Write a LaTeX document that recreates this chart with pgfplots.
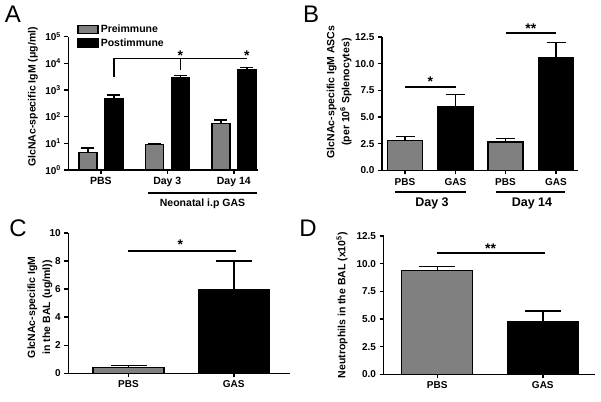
\documentclass[border=0pt]{standalone}
\usepackage{fontspec}
\setmainfont{Liberation Sans}
\usepackage{pgfplots}
\pgfplotsset{compat=1.18}
\definecolor{bargray}{RGB}{128,128,128}
\newcommand{\tf}{\fontsize{10}{12}\selectfont\bfseries}
\newcommand{\lf}{\fontsize{10.5}{15}\selectfont\bfseries}
\newcommand{\starf}{\fontsize{14}{14}\selectfont\bfseries}
\pgfplotsset{
  prism/.style={
    scale only axis, axis lines*=left, clip=false,
    axis line style={line width=1.6pt, black},
    every tick/.style={black, line width=1.4pt},
    major tick length=4pt, tick align=outside,
    ticklabel style={font=\tf},
    label style={font=\lf, align=center},
    /pgf/number format/assume math mode=true,
    ybar,
    error bars/y dir=plus, error bars/y explicit,
    error bars/error bar style={line width=1.4pt, black},
  },
  gbar/.style={fill=bargray, draw=black, line width=1.4pt, bar shift=0pt},
  kbar/.style={fill=black, draw=black, line width=1.4pt, bar shift=0pt},
}
\begin{document}
\begin{tikzpicture}
\path[use as bounding box] (0pt,0pt) rectangle (601pt,401pt);
% panel letters
\node[font=\fontsize{24}{24}\selectfont] at (13pt,386.5pt) {A};
\node[font=\fontsize{24}{24}\selectfont] at (311pt,387pt) {B};
\node[font=\fontsize{24}{24}\selectfont] at (18pt,173pt) {C};
\node[font=\fontsize{24}{24}\selectfont] at (308pt,173pt) {D};

% ---------------- Panel A ----------------
\begin{axis}[prism, at={(68.3pt,231pt)}, anchor=south west,
  width=189.7pt, height=133.3pt,
  xmin=0, xmax=189.7, ymode=log, ymin=1, ymax=1e5, log origin=0,
  yminorticks=false,
  ytick={1,10,100,1000,10000,100000},
  yticklabels={10\textsuperscript{0},10\textsuperscript{1},10\textsuperscript{2},10\textsuperscript{3},10\textsuperscript{4},10\textsuperscript{5}},
  xtick={32.5,99,165.5}, xticklabels={PBS,Day 3,Day 14},
  xticklabel style={font=\fontsize{10.5}{12}\selectfont\bfseries},
  bar width=18,
  error bars/error mark options={black, line width=1.4pt, rotate=90, mark size=6.5pt},
  ylabel={GlcNAc-specific IgM (μg/ml)},
  ylabel style={at={(axis description cs:-0.186,0.548)}, anchor=center},
  legend style={at={(axis description cs:0.047,1.105)}, anchor=north west,
    draw=none, fill=none, font=\lf, inner sep=0pt, row sep=0.5pt},
  legend cell align=left,
]
\addlegendimage{legend image code/.code={\draw[fill=bargray,draw=black,line width=1.4pt] (0pt,-4pt) rectangle (20pt,4pt);}}
\addlegendentry{Preimmune}
\addlegendimage{legend image code/.code={\draw[fill=black,draw=black,line width=1.4pt] (0pt,-4pt) rectangle (20pt,4pt);}}
\addlegendentry{Postimmune}
\addplot[gbar] table[x=x, y=y, y error=e] {
x y e
19.5 4.6 2.1
86 8.9 1.1
152.5 54.6 20
};
\addplot[kbar] table[x=x, y=y, y error=e] {
x y e
45.5 458 190
112 2890 560
178.5 5960 1120
};
\draw[line width=1.4pt] (axis cs:45.5,2990) -- (axis cs:45.5,14900) -- (axis cs:178.5,14900);
\draw[line width=1.4pt] (axis cs:112,14900) -- (axis cs:112,5620);
\node[font=\starf, anchor=base, inner sep=0pt, yshift=-1.5pt] at (axis cs:112,14900) {*};
\node[font=\starf, anchor=base, inner sep=0pt, yshift=-1.5pt] at (axis cs:178.5,14900) {*};
\draw[line width=1.4pt] (axis cs:79.7,0.137) -- (axis cs:188.7,0.137);
\node[font=\lf] at (axis cs:134.2,0.053) {Neonatal i.p GAS};
\end{axis}

% ---------------- Panel B ----------------
\begin{axis}[prism, at={(382pt,230.5pt)}, anchor=south west,
  width=196pt, height=133.5pt,
  xmin=0, xmax=196, ymin=0, ymax=12.5,
  ytick={0,2.5,5,7.5,10,12.5},
  yticklabel style={/pgf/number format/.cd, fixed, fixed zerofill, precision=1},
  xtick={23,73.5,123.5,174}, xticklabels={PBS,GAS,PBS,GAS},
  bar width=35,
  error bars/error mark options={black, line width=1.4pt, rotate=90, mark size=9.5pt},
  ylabel={GlcNAc-specific IgM ASCs\\(per 10\textsuperscript{6} Splenocytes)},
  ylabel style={at={(axis description cs:-0.219,0.588)}, anchor=center},
]
\addplot[gbar] table[x=x, y=y, y error=e] {
x y e
23 2.79 0.37
123.5 2.67 0.35
};
\addplot[kbar] table[x=x, y=y, y error=e] {
x y e
73.5 5.98 1.12
174 10.55 1.42
};
\draw[line width=1.4pt] (axis cs:23,7.82) -- (axis cs:73.5,7.82);
\node[font=\starf, anchor=base, inner sep=0pt] at (axis cs:48.25,7.82) {*};
\draw[line width=1.4pt] (axis cs:123.5,12.87) -- (axis cs:174,12.87);
\node[font=\starf, anchor=base, inner sep=0pt] at (axis cs:148.75,12.87) {**};
\draw[line width=1.4pt] (axis cs:13,-2.0) -- (axis cs:84,-2.0);
\draw[line width=1.4pt] (axis cs:114,-2.0) -- (axis cs:183,-2.0);
\node[font=\fontsize{12.5}{14}\selectfont\bfseries] at (axis cs:50,-3.1) {Day 3};
\node[font=\fontsize{12.5}{14}\selectfont\bfseries] at (axis cs:150,-3.1) {Day 14};
\end{axis}

% ---------------- Panel C ----------------
\begin{axis}[prism, at={(68.3pt,27.7pt)}, anchor=south west,
  width=221.7pt, height=140.3pt,
  xmin=0, xmax=221.7, ymin=0, ymax=10,
  ytick={0,2,4,6,8,10},
  xtick={60.2,165.5}, xticklabels={PBS,GAS},
  bar width=71,
  error bars/error mark options={black, line width=1.4pt, rotate=90, mark size=18pt},
  ylabel={GlcNAc-specific IgM\\in the BAL (ug/ml))},
  ylabel style={at={(axis description cs:-0.128,0.47)}, anchor=center},
]
\addplot[gbar] table[x=x, y=y, y error=e] {
x y e
60.2 0.43 0.12
};
\addplot[kbar] table[x=x, y=y, y error=e] {
x y e
165.5 5.93 2.07
};
\draw[line width=1.5pt] (axis cs:60,8.7) -- (axis cs:167.7,8.7);
\node[font=\starf, anchor=base, inner sep=0pt, yshift=1.5pt] at (axis cs:112,8.7) {*};
\end{axis}

% ---------------- Panel D ----------------
\begin{axis}[prism, at={(383.5pt,26.7pt)}, anchor=south west,
  width=211.5pt, height=138.3pt,
  xmin=0, xmax=211.5, ymin=0, ymax=12.5,
  ytick={0,2.5,5,7.5,10,12.5},
  yticklabel style={/pgf/number format/.cd, fixed, fixed zerofill, precision=1},
  xtick={53.7,159.3}, xticklabels={PBS,GAS},
  bar width=71,
  error bars/error mark options={black, line width=1.4pt, rotate=90, mark size=18pt},
  ylabel={Neutrophils in the BAL (x10\textsuperscript{5})},
  ylabel style={at={(axis description cs:-0.196,0.5)}, anchor=center},
]
\addplot[gbar] table[x=x, y=y, y error=e] {
x y e
53.7 9.37 0.36
};
\addplot[kbar] table[x=x, y=y, y error=e] {
x y e
159.3 4.73 0.99
};
\draw[line width=1.4pt] (axis cs:53,10.97) -- (axis cs:161,10.97);
\node[font=\starf, anchor=base, inner sep=0pt, yshift=-0.5pt] at (axis cs:107,10.97) {**};
\end{axis}
\end{tikzpicture}
\end{document}
